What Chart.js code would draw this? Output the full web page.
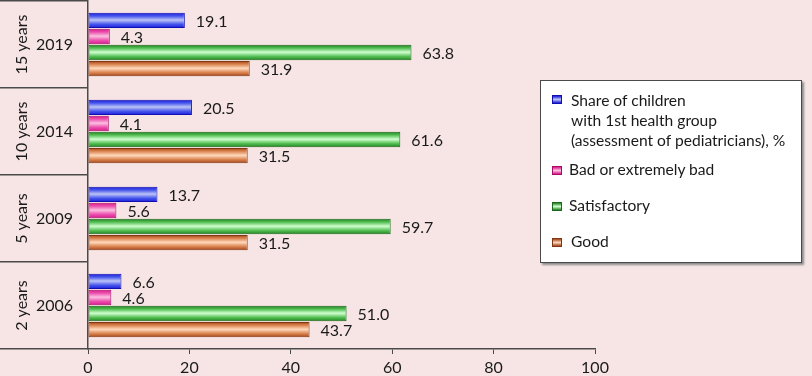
<!DOCTYPE html>
<html>
<head>
<meta charset="utf-8">
<script src="https://cdn.jsdelivr.net/npm/chart.js@4.4.1/dist/chart.umd.min.js"></script>
<style>
  body { margin: 0; background: #f7e5e5; font-family: Lato, "Open Sans", sans-serif; }
  #wrap { position: relative; width: 812px; height: 376px; }
  #legend { position: absolute; left: 540px; top: 80px; width: 260px; height: 181px;
            background: #fff; border: 1px solid #4a4a4a; box-shadow: 2px 2px 2px #8a8a8a; }
  .item { position: absolute; font-size: 15.6px; line-height: 20px; color: #1a1a1a; white-space: nowrap; }
  .mark { position: absolute; width: 8px; height: 7px; border: 1px solid; }
</style>
</head>
<body>
<div id="wrap">
  <canvas id="chart_healthGroups" width="812" height="376"></canvas>
  <div id="legend"></div>
</div>
<script>
var years = ['2019', '2014', '2009', '2006'];
var periods = ['15 years', '10 years', '5 years', '2 years'];
var seriesNames = [
    'Share of children\nwith 1st health group\n(assessment of pediatricians), %',
    'Bad or extremely bad',
    'Satisfactory',
    'Good'
];
var shareFirstGroup = [19.1, 20.5, 13.7, 6.6];
var badOrExtremelyBad = [4.3, 4.1, 5.6, 4.6];
var satisfactory = [63.8, 61.6, 59.7, 51.0];
var good = [31.9, 31.5, 31.5, 43.7];
var xTicks = [0, 20, 40, 60, 80, 100];

// edge, mid, centre highlight, border
var palette = [
    ['#1818dc', '#4656ec', '#bcc4f6', '#1010b0'],
    ['#d8188a', '#ec50ae', '#fbc0e0', '#a80c68'],
    ['#1c821c', '#56c056', '#d0ffd0', '#1a661a'],
    ['#9e4218', '#db8450', '#ffd8bc', '#843610']
];

function barGradient(i) {
    return function(context) {
        var el = context.chart.getDatasetMeta(context.datasetIndex).data[context.dataIndex];
        if (!el || !isFinite(el.y) || !el.height) return palette[i][1];
        var top = el.y - el.height / 2, bottom = el.y + el.height / 2;
        var g = context.chart.ctx.createLinearGradient(0, top, 0, bottom);
        g.addColorStop(0, palette[i][0]);
        g.addColorStop(0.22, palette[i][1]);
        g.addColorStop(0.48, palette[i][2]);
        g.addColorStop(0.75, palette[i][1]);
        g.addColorStop(1, palette[i][0]);
        return g;
    };
}

var seriesValues = [shareFirstGroup, badOrExtremelyBad, satisfactory, good];
var tickFont = { family: 'Lato', size: 16 };

var chart_healthGroups = new Chart(document.getElementById('chart_healthGroups'), {
    type: 'bar',
    data: {
        labels: years,
        datasets: seriesValues.map(function(vals, i) {
            return {
                label: seriesNames[i],
                data: vals,
                backgroundColor: barGradient(i),
                borderColor: palette[i][3],
                borderWidth: 1,
                borderSkipped: false,
                categoryPercentage: 0.74,
                barPercentage: 0.96
            };
        })
    },
    options: {
        indexAxis: 'y',
        animation: false,
        responsive: false,
        layout: { padding: { top: 1, right: 217, bottom: 0, left: 0 } },
        plugins: {
            legend: { display: false },
            tooltip: { enabled: false }
        },
        scales: {
            x: {
                type: 'linear',
                min: 0,
                max: 100,
                afterBuildTicks: function(axis) {
                    axis.ticks = xTicks.map(function(v) { return { value: v }; });
                },
                afterFit: function(axis) { axis.height = 27; },
                grid: { drawOnChartArea: false, tickLength: 5, color: '#4a4a4a' },
                border: { color: '#4a4a4a', width: 1.5 },
                ticks: { padding: 4, color: '#1a1a1a', font: tickFont }
            },
            y: {
                type: 'category',
                position: 'left',
                weight: 0,
                afterFit: function(axis) { axis.width = 53; },
                grid: { offset: true, drawOnChartArea: false, tickLength: 88, color: '#4a4a4a', lineWidth: 1.5 },
                border: { color: '#4a4a4a', width: 1.5 },
                ticks: { crossAlign: 'center', padding: -73, color: '#1a1a1a', font: tickFont }
            },
            y2: {
                type: 'category',
                position: 'left',
                weight: 1,
                labels: periods,
                offset: true,
                afterFit: function(axis) { axis.width = 35; },
                grid: { display: false },
                border: { display: false },
                ticks: { minRotation: 90, maxRotation: 90, crossAlign: 'center', padding: -25,
                         color: '#1a1a1a', font: tickFont }
            }
        }
    },
    plugins: [{
        id: 'valueLabels',
        afterDatasetsDraw: function(chart) {
            var ctx = chart.ctx;
            ctx.save();
            ctx.font = '16px Lato';
            ctx.fillStyle = '#1a1a1a';
            ctx.textBaseline = 'middle';
            ctx.textAlign = 'left';
            chart.data.datasets.forEach(function(ds, di) {
                chart.getDatasetMeta(di).data.forEach(function(el, i) {
                    ctx.fillText(ds.data[i].toFixed(1), el.x + 11, el.y + 1);
                });
            });
            ctx.restore();
        }
    }]
});
// second pass so the gradients can use the laid-out bar positions
chart_healthGroups.update();

// legend
var legendRows = [
    { lines: seriesNames[0].split('\n'), top: 9, markTop: 14, textLeft: 30 },
    { lines: [seriesNames[1]], top: 78, markTop: 85, textLeft: 28 },
    { lines: [seriesNames[2]], top: 114, markTop: 121, textLeft: 28 },
    { lines: [seriesNames[3]], top: 150, markTop: 157, textLeft: 30 }
];
var legendBox = document.getElementById('legend');
legendRows.forEach(function(row, i) {
    var m = document.createElement('div');
    m.className = 'mark';
    m.style.left = '11px';
    m.style.top = row.markTop + 'px';
    m.style.borderColor = palette[i][3];
    m.style.background = 'linear-gradient(' + palette[i][0] + ',' + palette[i][2] + ',' + palette[i][0] + ')';
    legendBox.appendChild(m);
    row.lines.forEach(function(line, k) {
        var t = document.createElement('div');
        t.className = 'item';
        t.style.left = row.textLeft + 'px';
        t.style.top = (row.top + k * 20) + 'px';
        t.textContent = line;
        legendBox.appendChild(t);
    });
});
</script>
</body>
</html>
